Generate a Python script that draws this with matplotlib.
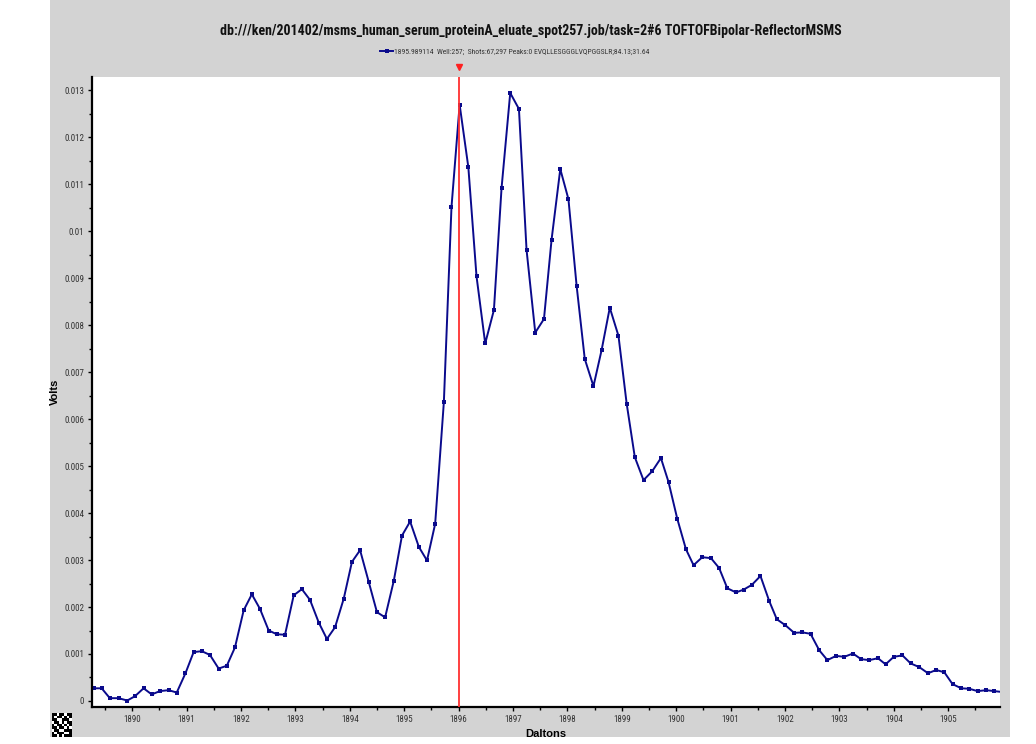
import matplotlib
matplotlib.use("Agg")
import matplotlib.pyplot as plt
from matplotlib.patches import Rectangle
from matplotlib import font_manager
import numpy as np

# ---- data ----
daltons = [1889.29, 1889.44, 1889.59, 1889.75, 1889.91, 1890.05, 1890.21, 1890.36, 1890.51, 1890.67,
           1890.82, 1890.98, 1891.13, 1891.28, 1891.43, 1891.59, 1891.74, 1891.89, 1892.05, 1892.20,
           1892.35, 1892.51, 1892.66, 1892.81, 1892.97, 1893.12, 1893.27, 1893.43, 1893.58, 1893.73,
           1893.89, 1894.04, 1894.19, 1894.35, 1894.50, 1894.65, 1894.81, 1894.96, 1895.11, 1895.27,
           1895.42, 1895.57, 1895.73, 1895.87, 1896.02, 1896.18, 1896.33, 1896.49, 1896.65, 1896.79,
           1896.95, 1897.11, 1897.25, 1897.41, 1897.57, 1897.71, 1897.87, 1898.02, 1898.17, 1898.32,
           1898.48, 1898.63, 1898.78, 1898.94, 1899.09, 1899.24, 1899.40, 1899.56, 1899.72, 1899.86,
           1900.02, 1900.18, 1900.32, 1900.48, 1900.64, 1900.79, 1900.94, 1901.10, 1901.24, 1901.39,
           1901.55, 1901.71, 1901.85, 1902.01, 1902.17, 1902.32, 1902.47, 1902.63, 1902.78, 1902.94,
           1903.09, 1903.25, 1903.40, 1903.55, 1903.71, 1903.85, 1904.00, 1904.16, 1904.31, 1904.47,
           1904.63, 1904.78, 1904.93, 1905.08, 1905.24, 1905.39, 1905.54, 1905.70, 1905.85, 1906.00]
volts = [0.00027, 0.00027, 0.00006, 0.00006, 0.00001, 0.00010, 0.00027, 0.00014, 0.00021, 0.00023,
         0.00018, 0.00059, 0.00104, 0.00106, 0.00098, 0.00069, 0.00075, 0.00114, 0.00193, 0.00227,
         0.00196, 0.00150, 0.00142, 0.00141, 0.00225, 0.00238, 0.00215, 0.00167, 0.00132, 0.00157,
         0.00218, 0.00296, 0.00321, 0.00253, 0.00189, 0.00178, 0.00256, 0.00352, 0.00382, 0.00328,
         0.00299, 0.00377, 0.00636, 0.01051, 0.01269, 0.01136, 0.00904, 0.00761, 0.00832, 0.01091,
         0.01294, 0.01260, 0.00960, 0.00784, 0.00813, 0.00982, 0.01132, 0.01068, 0.00884, 0.00728,
         0.00670, 0.00747, 0.00837, 0.00777, 0.00633, 0.00519, 0.00470, 0.00489, 0.00517, 0.00466,
         0.00388, 0.00323, 0.00289, 0.00306, 0.00304, 0.00283, 0.00240, 0.00231, 0.00237, 0.00247,
         0.00266, 0.00213, 0.00174, 0.00161, 0.00145, 0.00146, 0.00143, 0.00108, 0.00087, 0.00096,
         0.00094, 0.00101, 0.00089, 0.00087, 0.00091, 0.00078, 0.00094, 0.00097, 0.00080, 0.00072,
         0.00059, 0.00066, 0.00061, 0.00036, 0.00027, 0.00026, 0.00021, 0.00023, 0.00021, 0.00019]
marker_mass = 1896.0
x_ticks = list(range(1890, 1906))
y_ticks = [0, 0.001, 0.002, 0.003, 0.004, 0.005, 0.006, 0.007, 0.008, 0.009, 0.01, 0.011, 0.012, 0.013]
y_tick_labels = ["0", "0.001", "0.002", "0.003", "0.004", "0.005", "0.006", "0.007",
                 "0.008", "0.009", "0.01", "0.011", "0.012", "0.013"]
title = "db:///ken/201402/msms_human_serum_proteinA_eluate_spot257.job/task=2#6 TOFTOFBipolar-ReflectorMSMS"
legend_label = "1895.989114  Well:257;  Shots:67,297 Peaks:0 EVQLLESGGGLVQPGGSLR;84.13;31.64"
barcode = [
    [1,1,0,1,1,0,1,1],
    [1,0,1,1,0,1,0,1],
    [1,1,0,0,1,1,1,0],
    [0,1,1,0,1,0,1,1],
    [1,0,1,1,0,1,0,1],
    [1,1,0,1,1,0,1,0],
    [0,1,1,0,0,1,1,1],
    [1,0,1,1,1,0,0,1],
    [1,1,0,1,0,1,1,1],
]

names = {f.name for f in font_manager.fontManager.ttflist}
cond = [n for n in ("Roboto Condensed", "Liberation Sans Narrow", "Open Sans Condensed",
                    "Noto Sans Condensed", "Roboto") if n in names] + ["DejaVu Sans"]
COND = cond[0]

W, H = 1036, 744
fig = plt.figure(figsize=(W / 100, H / 100), dpi=100, facecolor="white")
plt.rcParams['font.family'] = [COND, 'DejaVu Sans']

# gray panel
fig.patches.append(Rectangle((50 / W, 1 - 737 / H), 960 / W, 737 / H,
                             transform=fig.transFigure, facecolor="#d3d3d3",
                             edgecolor="none", zorder=-5))

ax = fig.add_axes([92 / W, 1 - 707 / H, 908 / W, 630 / H])
ax.set_facecolor("white")
ax.plot(daltons, volts, color="#0a0a8c", lw=1.4, marker="s", ms=2.4,
        markeredgewidth=0, label=legend_label, clip_on=True)
ax.axvline(marker_mass, color="#ff3030", lw=1.3, zorder=3)

ax.set_xticks(x_ticks)
ax.set_xticklabels([str(t) for t in x_ticks])
ax.set_xticks([t + 0.5 for t in range(1889, 1906)], minor=True)
ax.set_yticks(y_ticks)
ax.set_yticklabels(y_tick_labels)
ax.set_yticks([v + 0.0005 for v in y_ticks[:-1]], minor=True)

ax.tick_params(axis="both", which="major", length=3, width=1, color="black",
               labelsize=6.5, labelcolor="#333333", pad=2.5)
ax.tick_params(axis="both", which="minor", length=2, width=1, color="black")
for s in ("top", "right"):
    ax.spines[s].set_visible(False)
for s in ("left", "bottom"):
    ax.spines[s].set_linewidth(1.6)
    ax.spines[s].set_color("black")

ax.set_xlabel("Daltons", fontsize=8, fontweight="bold", family="Liberation Sans")
ax.set_ylabel("Volts", fontsize=8, fontweight="bold", family="Liberation Sans")
ax.xaxis.set_label_coords(0.5, -22 / 630)
ax.yaxis.set_label_coords(-32 / 908, 0.5)

# title
fig.text(531 / W, 1 - 31 / H, title, ha="center", va="center", fontsize=10,
         fontweight="bold", color="#111111")

# legend
leg = fig.legend(loc="center", bbox_to_anchor=(515 / W, 1 - 52 / H), frameon=False,
                 fontsize=5.5, handlelength=1.6, handletextpad=0.2)
for t in leg.get_texts():
    t.set_color("#333333")

# red triangle marker above the line
ax.plot([marker_mass], [1.016], transform=ax.get_xaxis_transform(), marker="v",
        color="#ff2020", ms=4.5, clip_on=False, linestyle="none")
ax.set_xlim(1889.262, 1905.953)
ax.set_ylim(-0.000128, 0.01328)

# barcode decoration
bax = fig.add_axes([52 / W, 1 - 737 / H, 20 / W, 24 / H])
bax.imshow(np.array(barcode), cmap="gray_r", interpolation="nearest", aspect="auto")
bax.axis("off")

fig.savefig("out.png", dpi=100, facecolor="white")
